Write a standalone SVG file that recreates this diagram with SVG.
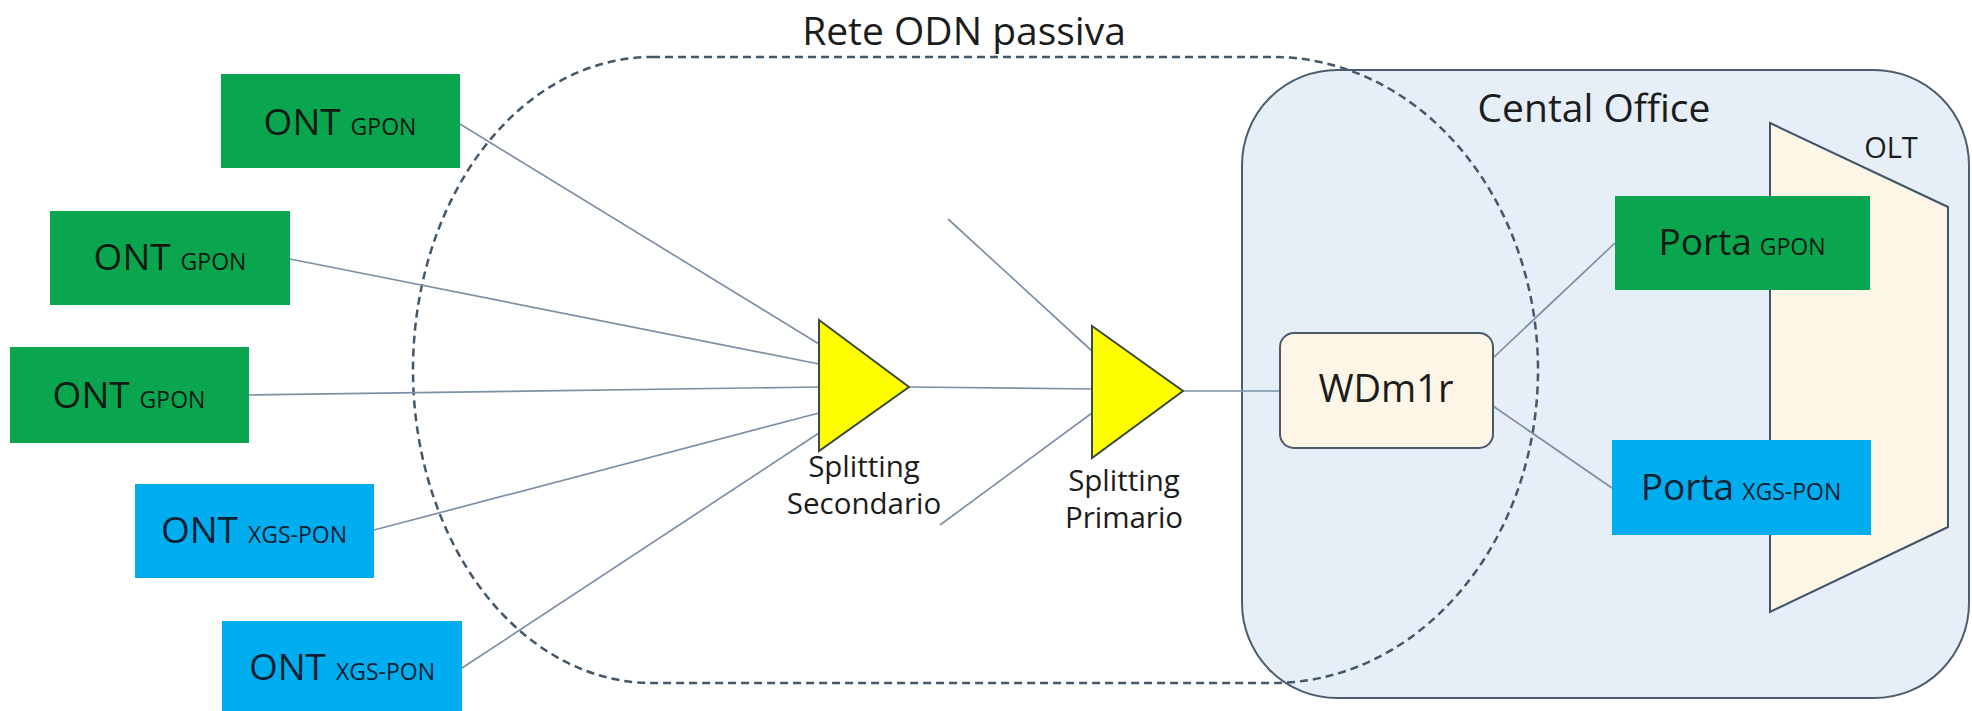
<svg xmlns="http://www.w3.org/2000/svg" width="1972" height="711" viewBox="0 0 1972 711">
<style>
.lbl{font-family:"Open Sans","Noto Sans","Liberation Sans",sans-serif;fill:#1c1c1c}
.ont{fill:#0aa64f}
.xgs{fill:#00aeef}
.nt{font-family:"Open Sans","Noto Sans","Liberation Sans",sans-serif;fill:#0d1a12;font-size:37px}
.nb{font-family:"Open Sans","Noto Sans","Liberation Sans",sans-serif;fill:#0a1f33;font-size:37px}
.sm{font-size:23px}
.conn{stroke:#7d90a6;stroke-width:1.7;fill:none}
.tri{fill:#ffff00;stroke:#3b4a3c;stroke-width:2;stroke-linejoin:miter}
</style>
<rect width="1972" height="711" fill="#ffffff"/>
<g id="central-office">
  <rect x="1242" y="70" width="727" height="628" rx="95" ry="95" fill="#e6eef7" stroke="#4b5e70" stroke-width="2"/>
  <text class="lbl" x="1594" y="122" font-size="39" text-anchor="middle">Cental Office</text>
</g>
<g id="olt">
  <polygon points="1770,123 1948,207 1948,527 1770,612" fill="#fdf6e6" stroke="#3f5568" stroke-width="2"/>
  <text class="lbl" x="1891" y="158" font-size="29" text-anchor="middle">OLT</text>
</g>
<g id="odn">
  <path d="M652,57 L1273,57 A265,313 0 0 1 1273,683 L652,683 A239,313 0 0 1 652,57 Z" fill="none" stroke="#44586b" stroke-width="2.5" stroke-dasharray="8,5"/>
  <text class="lbl" x="964" y="45" font-size="39" text-anchor="middle">Rete ODN passiva</text>
</g>
<g id="connectors">
  <line class="conn" x1="460" y1="124" x2="819" y2="344"/>
  <line class="conn" x1="290" y1="259" x2="819" y2="364"/>
  <line class="conn" x1="249" y1="395" x2="819" y2="387"/>
  <line class="conn" x1="374" y1="530" x2="819" y2="413"/>
  <line class="conn" x1="462" y1="668" x2="819" y2="433"/>
  <line class="conn" x1="909" y1="387" x2="1092" y2="389"/>
  <line class="conn" x1="948" y1="219" x2="1092" y2="351"/>
  <line class="conn" x1="940" y1="525" x2="1092" y2="413"/>
  <line class="conn" x1="1183" y1="391" x2="1280" y2="391"/>
  <line class="conn" x1="1493" y1="358" x2="1615" y2="243"/>
  <line class="conn" x1="1493" y1="406" x2="1612" y2="488"/>
</g>
<g id="ont1">
  <rect class="ont" x="221" y="74" width="239" height="94"/>
  <text class="nt" x="340" y="135" text-anchor="middle">ONT<tspan class="sm" dx="4"> GPON</tspan></text>
</g>
<g id="ont2">
  <rect class="ont" x="50" y="211" width="240" height="94"/>
  <text class="nt" x="170" y="270" text-anchor="middle">ONT<tspan class="sm" dx="4"> GPON</tspan></text>
</g>
<g id="ont3">
  <rect class="ont" x="10" y="347" width="239" height="96"/>
  <text class="nt" x="129" y="408" text-anchor="middle">ONT<tspan class="sm" dx="4"> GPON</tspan></text>
</g>
<g id="ont4">
  <rect class="xgs" x="135" y="484" width="239" height="94"/>
  <text class="nb" x="254" y="543" text-anchor="middle">ONT<tspan class="sm" dx="4"> XGS-PON</tspan></text>
</g>
<g id="ont5">
  <rect class="xgs" x="222" y="621" width="240" height="94"/>
  <text class="nb" x="342" y="680" text-anchor="middle">ONT<tspan class="sm" dx="4"> XGS-PON</tspan></text>
</g>
<g id="splitter-secondario">
  <polygon class="tri" points="819,320 909,387 819,451"/>
  <text class="lbl" x="864" y="477" font-size="29.5" text-anchor="middle">Splitting</text>
  <text class="lbl" x="864" y="514" font-size="29.5" text-anchor="middle">Secondario</text>
</g>
<g id="splitter-primario">
  <polygon class="tri" points="1092,326 1183,391 1092,458"/>
  <text class="lbl" x="1124" y="491" font-size="29.5" text-anchor="middle">Splitting</text>
  <text class="lbl" x="1124" y="528" font-size="29.5" text-anchor="middle">Primario</text>
</g>
<g id="wdm1r">
  <rect x="1280" y="333" width="213" height="115" rx="14" ry="14" fill="#fdf5e6" stroke="#4a5a6a" stroke-width="2"/>
  <text class="lbl" x="1386" y="402" font-size="38" text-anchor="middle">WDm1r</text>
</g>
<g id="porta-gpon">
  <rect class="ont" x="1615" y="196" width="255" height="94"/>
  <text class="nt" x="1742" y="255" font-size="38" text-anchor="middle">Porta<tspan class="sm" dx="2"> GPON</tspan></text>
</g>
<g id="porta-xgs">
  <rect class="xgs" x="1612" y="440" width="259" height="95"/>
  <text class="nb" x="1741" y="500" font-size="38" text-anchor="middle">Porta<tspan class="sm" dx="2"> XGS-PON</tspan></text>
</g>
</svg>
